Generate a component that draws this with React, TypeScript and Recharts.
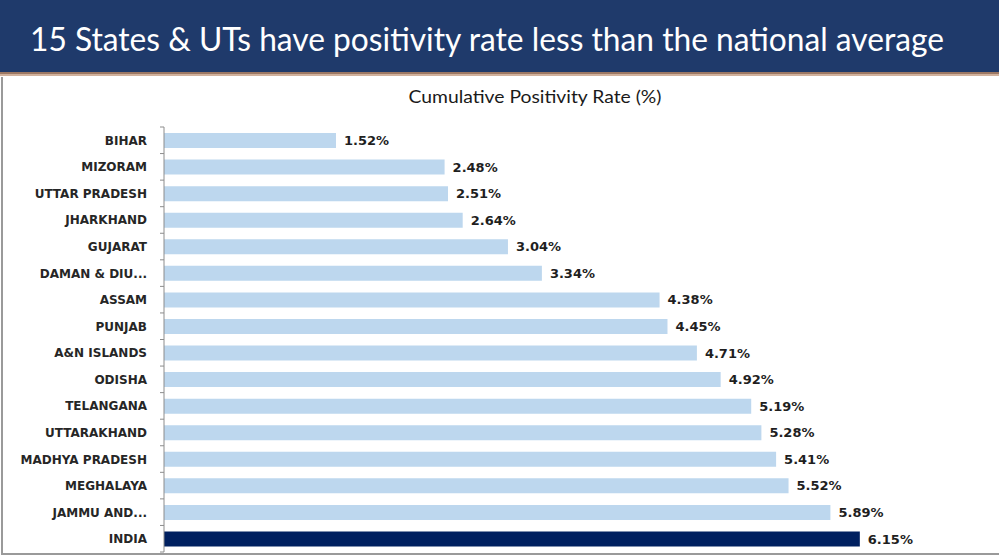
import React from "react";
import { Bar, BarChart, Cell, LabelList, XAxis, YAxis } from "recharts";

const states = [
  "BIHAR",
  "MIZORAM",
  "UTTAR PRADESH",
  "JHARKHAND",
  "GUJARAT",
  "DAMAN & DIU...",
  "ASSAM",
  "PUNJAB",
  "A&N ISLANDS",
  "ODISHA",
  "TELANGANA",
  "UTTARAKHAND",
  "MADHYA PRADESH",
  "MEGHALAYA",
  "JAMMU AND...",
  "INDIA",
];
const rates = [
  1.52, 2.48, 2.51, 2.64, 3.04, 3.34, 4.38, 4.45, 4.71, 4.92, 5.19, 5.28, 5.41,
  5.52, 5.89, 6.15,
];
const title = "15 States & UTs have positivity rate less than the national average";
const subtitle = "Cumulative Positivity Rate (%)";

const data = states.map((name, i) => ({ name, rate: rates[i] }));

const W = 999;
const H = 558;
const margin = { top: 127, right: 43, bottom: 6, left: 0 };
const band = (H - margin.top - margin.bottom) / states.length;

const NAVY = "#1f3a6b";
const LIGHT = "#bdd7ee";
const DARK = "#002060";
const AXIS = "#8c8c8c";

function StateTick(props: any) {
  const { x, y, payload, index } = props;
  const ax = x + 17;
  return (
    <g>
      {index === 0 && (
        <line x1={ax - 4} x2={ax} y1={y - band / 2} y2={y - band / 2} stroke={AXIS} />
      )}
      <line x1={ax - 4} x2={ax} y1={y + band / 2} y2={y + band / 2} stroke={AXIS} />
      <text
        x={x}
        y={y}
        dy={4.5}
        textAnchor="end"
        fontFamily="'DejaVu Sans', sans-serif"
        fontWeight={700}
        fontSize={12}
        fill="#262626"
      >
        {payload.value}
      </text>
    </g>
  );
}

export default function App() {
  return (
    <div style={{ position: "absolute", left: 0, top: 0, width: W, height: H, background: "#fff" }}>
      <div style={{ position: "absolute", left: 0, top: 0, width: W, height: 72, background: NAVY }}>
        <svg width={W} height={72} style={{ display: "block" }}>
          <text
            x={487}
            y={51}
            textAnchor="middle"
            fill="#ffffff"
            fontFamily="Lato, sans-serif"
            fontSize={33}
            textLength={914}
            lengthAdjust="spacingAndGlyphs"
          >
            {title}
          </text>
        </svg>
      </div>
      <div style={{ position: "absolute", left: 0, top: 72, width: W, height: 2, background: "#9c7864" }} />
      <div style={{ position: "absolute", left: 0, top: 74, width: W, height: 2, background: "#d1b19c" }} />
      <div
        style={{
          position: "absolute",
          left: 1,
          top: 77,
          width: W - 1,
          height: 478,
          borderLeft: "2px solid #9a9a9a",
          borderBottom: "2px solid #9a9a9a",
          boxSizing: "border-box",
        }}
      />
      <svg width={W} height={34} style={{ position: "absolute", left: 0, top: 80, display: "block" }}>
        <text
          x={535}
          y={23}
          textAnchor="middle"
          fill="#1a1a1a"
          fontFamily="Lato, sans-serif"
          fontSize={17}
          textLength={253}
          lengthAdjust="spacingAndGlyphs"
        >
          {subtitle}
        </text>
      </svg>
      <div style={{ position: "absolute", left: 0, top: 0 }}>
        <BarChart width={W} height={H} data={data} layout="vertical" margin={margin}>
          <XAxis type="number" domain={[0, 7]} hide />
          <YAxis
            type="category"
            dataKey="name"
            width={164}
            axisLine={{ stroke: AXIS }}
            tickLine={false}
            tickSize={4}
            tickMargin={13}
            interval={0}
            tick={<StateTick />}
          />
          <Bar dataKey="rate" barSize={15} isAnimationActive={false}>
            {data.map((d, i) => (
              <Cell key={d.name} fill={i === data.length - 1 ? DARK : LIGHT} />
            ))}
            <LabelList
              dataKey="rate"
              position="right"
              offset={8}
              formatter={(v: any) => `${Number(v).toFixed(2)}%`}
              style={{
                fontFamily: "'DejaVu Sans', sans-serif",
                fontWeight: 700,
                fontSize: 13,
                fill: "#1f1f1f",
              }}
            />
          </Bar>
        </BarChart>
      </div>
    </div>
  );
}
